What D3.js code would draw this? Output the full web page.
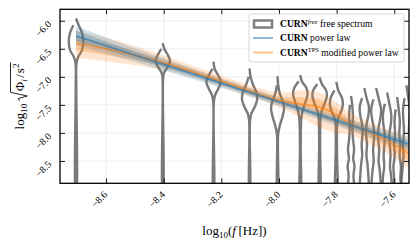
<!DOCTYPE html>
<html><head><meta charset="utf-8">
<script src="https://cdn.jsdelivr.net/npm/d3@7"></script>
<style>
body{margin:0;background:#fff}
svg{display:block}
text{font-family:"Liberation Serif","Times New Roman",serif;fill:#000}
</style>
</head><body>
<svg id="c" width="419" height="241"></svg>
<script>
// ---------- data ----------
// free-spectrum frequencies (log10 f)
const violinLogF = [-8.704, -8.403, -8.227, -8.102, -8.005, -7.926, -7.859, -7.801, -7.750, -7.704, -7.663, -7.625, -7.590, -7.558];
// violin profiles: [log10 rho, relative density]
const violinProfiles = [
  [[-5.96,0],[-6.08,0.35],[-6.22,0.8],[-6.38,0.95],[-6.52,0.8],[-6.64,0.3],[-6.76,0.06],[-7.2,0.04],[-9.2,0.03]],
  [[-6.40,0],[-6.50,0.2],[-6.62,0.7],[-6.72,0.95],[-6.82,0.65],[-6.92,0.18],[-7.02,0.04],[-9.2,0.03]],
  [[-6.73,0],[-6.86,0.15],[-6.98,0.65],[-7.08,0.95],[-7.19,0.7],[-7.32,0.22],[-7.44,0.04],[-9.2,0.03]],
  [[-6.85,0],[-7.00,0.12],[-7.14,0.45],[-7.28,0.9],[-7.40,1.0],[-7.53,0.7],[-7.66,0.22],[-7.80,0.05],[-9.2,0.03]],
  [[-6.99,0],[-7.15,0.08],[-7.30,0.3],[-7.44,0.7],[-7.57,0.85],[-7.71,0.65],[-7.87,0.3],[-8.02,0.08],[-8.2,0.04],[-9.2,0.03]],
  [[-6.97,0],[-7.08,0.2],[-7.20,0.8],[-7.31,0.95],[-7.44,0.7],[-7.58,0.35],[-7.72,0.15],[-7.9,0.08],[-8.3,0.05],[-9.2,0.04]],
  [[-7.01,0],[-7.13,0.3],[-7.24,0.85],[-7.35,0.95],[-7.48,0.65],[-7.62,0.25],[-7.75,0.12],[-8.2,0.06],[-9.2,0.05]],
  [[-7.09,0],[-7.24,0.25],[-7.38,0.75],[-7.50,0.85],[-7.61,0.65],[-7.74,0.22],[-7.85,0.1],[-8.3,0.08],[-9.2,0.08]],
  [[-7.34,0],[-7.5,0.15],[-7.7,0.25],[-7.9,0.18],[-8.1,0.25],[-8.3,0.4],[-8.45,0.28],[-8.6,0.45],[-8.75,0.32],[-9.2,0.4]],
  [[-7.20,0],[-7.38,0.3],[-7.53,0.6],[-7.67,0.55],[-7.85,0.3],[-8.0,0.22],[-8.2,0.35],[-8.4,0.28],[-8.6,0.45],[-9.2,0.4]],
  [[-7.20,0],[-7.40,0.35],[-7.58,0.65],[-7.74,0.55],[-7.9,0.32],[-8.1,0.28],[-8.3,0.4],[-8.5,0.32],[-8.7,0.5],[-9.2,0.45]],
  [[-7.28,0],[-7.48,0.3],[-7.68,0.55],[-7.84,0.5],[-8.0,0.32],[-8.2,0.35],[-8.4,0.45],[-8.6,0.38],[-8.8,0.55],[-9.2,0.5]],
  [[-7.36,0],[-7.58,0.2],[-7.80,0.35],[-8.0,0.28],[-8.2,0.4],[-8.4,0.32],[-8.6,0.5],[-8.8,0.42],[-9.2,0.5]],
  [[-7.15,0],[-7.38,0.25],[-7.60,0.45],[-7.80,0.38],[-8.0,0.32],[-8.2,0.45],[-8.4,0.38],[-8.6,0.5],[-9.2,0.5]]
];
// reconstruction grid (log10 f)
const bandLogF = [-8.704, -8.6, -8.4, -8.2, -8.0, -7.92, -7.86, -7.80, -7.76, -7.70, -7.62, -7.55];
// CURN power law
const plMedian = [-6.27, -6.444, -6.778, -7.112, -7.446, -7.579, -7.679, -7.780, -7.846, -7.947, -8.080, -8.197];
const plLo1 = [-6.36, -6.520, -6.832, -7.154, -7.483, -7.618, -7.721, -7.827, -7.895, -8.000, -8.138, -8.262];
const plHi1 = [-6.18, -6.368, -6.724, -7.070, -7.409, -7.540, -7.637, -7.733, -7.797, -7.894, -8.022, -8.132];
const plLo2 = [-6.44, -6.590, -6.886, -7.196, -7.520, -7.657, -7.763, -7.874, -7.944, -8.053, -8.196, -8.320];
const plHi2 = [-6.10, -6.298, -6.670, -7.028, -7.372, -7.501, -7.595, -7.686, -7.748, -7.841, -7.964, -8.074];
// CURN TPS modified power law
const tpsMedian = [-6.40, -6.50, -6.75, -7.08, -7.42, -7.49, -7.54, -7.68, -7.82, -7.96, -8.15, -8.37];
const tpsLo1 = [-6.535, -6.61, -6.815, -7.13, -7.48, -7.615, -7.72, -7.84, -7.92, -8.06, -8.26, -8.50];
const tpsHi1 = [-6.28, -6.40, -6.685, -7.03, -7.35, -7.365, -7.41, -7.57, -7.72, -7.87, -8.05, -8.22];
const tpsLo2 = [-6.67, -6.72, -6.88, -7.18, -7.54, -7.74, -7.90, -8.00, -8.02, -8.16, -8.37, -8.63];
const tpsHi2 = [-6.16, -6.30, -6.62, -6.98, -7.28, -7.24, -7.28, -7.46, -7.62, -7.78, -7.95, -8.07];
// ticks
const xTicks = [-8.6, -8.4, -8.2, -8.0, -7.8, -7.6];
const yTicks = [-6.0, -6.5, -7.0, -7.5, -8.0, -8.5];
const legendLabels = [
  {bold:"CURN", sup:"free", supItalic:true, rest:" free spectrum"},
  {bold:"CURN", sup:"", rest:" power law"},
  {bold:"CURN", sup:"TPS", supItalic:false, rest:" modified power law"}
];

// ---------- layout ----------
const L = 60, R = 409, T = 9.3, B = 183.3;
const svg = d3.select("#c");
const x = d3.scaleLinear().domain([-8.7596, -7.549]).range([L, R]);
const y = d3.scaleLinear().domain([-8.898, -5.796]).range([B, T]);
const w = d3.scaleLinear().domain([0, 1]).range([0, 7.6]);
const fmt = v => (v < 0 ? "\u2212" : "") + Math.abs(v).toFixed(1);

svg.append("defs").append("clipPath").attr("id","clip")
  .append("rect").attr("x",L).attr("y",T).attr("width",R-L).attr("height",B-T);

// grid
const grid = svg.append("g").attr("clip-path","url(#clip)");
grid.selectAll("line.gx").data(xTicks).join("line")
  .attr("x1",d=>x(d)).attr("x2",d=>x(d)).attr("y1",T).attr("y2",B)
  .attr("stroke","#ebebeb").attr("stroke-width",0.8);
grid.selectAll("line.gy").data(yTicks).join("line")
  .attr("y1",d=>y(d)).attr("y2",d=>y(d)).attr("x1",L).attr("x2",R)
  .attr("stroke","#ebebeb").attr("stroke-width",0.8);

const plot = svg.append("g").attr("clip-path","url(#clip)");

// violins
const vline = d3.line().curve(d3.curveCatmullRom.alpha(0.5)).x(d=>d[0]).y(d=>d[1]);
violinProfiles.forEach((prof, i) => {
  const cx = x(violinLogF[i]);
  const right = prof.map(p => [cx + w(p[1]), y(p[0])]);
  const left = prof.slice(1).reverse().map(p => [cx - w(p[1]), y(p[0])]);
  plot.append("path").attr("d", vline(right.concat(left)))
    .attr("fill","none").attr("stroke","#555").attr("stroke-opacity",0.78)
    .attr("stroke-width",2.4).attr("stroke-linejoin","round");
});

// bands
const idx = d3.range(bandLogF.length);
const area = (lo, hi) => d3.area().curve(d3.curveCatmullRom)
  .x(i => x(bandLogF[i])).y0(i => y(lo[i])).y1(i => y(hi[i]))(idx);
const line = (m) => d3.line().curve(d3.curveCatmullRom)
  .x(i => x(bandLogF[i])).y(i => y(m[i]))(idx);
const BLUE = "#1f77b4", ORANGE = "#ff7f0e";
plot.append("path").attr("d", area(tpsLo2, tpsHi2)).attr("fill", ORANGE).attr("fill-opacity", 0.2);
plot.append("path").attr("d", area(tpsLo1, tpsHi1)).attr("fill", ORANGE).attr("fill-opacity", 0.28);
plot.append("path").attr("d", area(plLo2, plHi2)).attr("fill", BLUE).attr("fill-opacity", 0.2);
plot.append("path").attr("d", area(plLo1, plHi1)).attr("fill", BLUE).attr("fill-opacity", 0.28);
plot.append("path").attr("d", line(tpsMedian)).attr("fill","none").attr("stroke", ORANGE).attr("stroke-opacity",0.65).attr("stroke-width",1.6);
plot.append("path").attr("d", line(plMedian)).attr("fill","none").attr("stroke", BLUE).attr("stroke-opacity",0.65).attr("stroke-width",1.6);

// axes (inward ticks)
const tick = 5;
const ax = svg.append("g").attr("transform",`translate(0,${B})`)
  .call(d3.axisBottom(x).tickValues(xTicks).tickSizeInner(-tick).tickSizeOuter(0).tickFormat(fmt));
ax.select(".domain").remove();
ax.selectAll("text").attr("x",0).attr("y",0).attr("dy",null)
  .attr("text-anchor","end").attr("font-size",10).attr("font-family","Liberation Serif, serif")
  .attr("transform","translate(1.5,12) rotate(-45)");
const axT = svg.append("g").attr("transform",`translate(0,${T})`)
  .call(d3.axisTop(x).tickValues(xTicks).tickSizeInner(-tick).tickSizeOuter(0).tickFormat(""));
axT.select(".domain").remove();
const ay = svg.append("g").attr("transform",`translate(${L},0)`)
  .call(d3.axisLeft(y).tickValues(yTicks).tickSizeInner(-tick).tickSizeOuter(0).tickFormat(fmt));
ay.select(".domain").remove();
ay.selectAll("text").attr("x",0).attr("y",0).attr("dy",null)
  .attr("text-anchor","end").attr("font-size",10).attr("font-family","Liberation Serif, serif")
  .attr("transform","translate(-8,3.5) rotate(-45)");
const ayR = svg.append("g").attr("transform",`translate(${R},0)`)
  .call(d3.axisRight(y).tickValues(yTicks).tickSizeInner(-tick).tickSizeOuter(0).tickFormat(""));
ayR.select(".domain").remove();
svg.selectAll(".tick line").attr("stroke","#000").attr("stroke-width",0.9);

// frame
svg.append("rect").attr("x",L).attr("y",T).attr("width",R-L).attr("height",B-T)
  .attr("fill","none").attr("stroke","#000").attr("stroke-width",1.3);

// x title
const xt = svg.append("text").attr("x",(L+R)/2).attr("y",235).attr("text-anchor","middle").attr("font-size",13);
xt.append("tspan").text("log");
xt.append("tspan").attr("font-size",9).attr("dy",3).text("10");
xt.append("tspan").attr("dy",-3).text("(");
xt.append("tspan").attr("font-style","italic").text("f");
xt.append("tspan").text("\u2009[Hz])");

// y title (rotated)
const yg = svg.append("g").attr("transform","translate(24,96) rotate(-90)");
let cur = 0;
function put(txt, size, dy, italic) {
  const t = yg.append("text").attr("x",cur).attr("y",dy).attr("font-size",size)
    .attr("font-style", italic ? "italic" : "normal").text(txt);
  cur += t.node().getComputedTextLength();
  return t;
}
put("log", 13, 0);
put("10", 9, 3);
cur += 3;
const radStart = cur;
cur += 9.5;
put("\u03A6", 13, 0);
put("i", 9, 3, true);
cur += 1.5;
put("/", 13, 0);
cur += 1;
put("s", 13, 0);
put("2", 9, -5.5);
const total = cur + 1;
yg.append("path")
  .attr("d", `M${radStart},-4.5 L${radStart+2.2},-5.8 L${radStart+4.8},3.2 L${radStart+8.5},-13.5 L${total},-13.5`)
  .attr("fill","none").attr("stroke","#000").attr("stroke-width",0.85);
yg.selectAll("*").attr("transform",`translate(${-total/2},0)`);

// legend
const lg = svg.append("g");
lg.append("rect").attr("x",249).attr("y",14).attr("width",155).attr("height",48).attr("rx",2)
  .attr("fill","#fff").attr("fill-opacity",0.8).attr("stroke","#cccccc").attr("stroke-width",0.8);
const rows = [24, 38, 52.5];
lg.append("rect").attr("x",254).attr("y",rows[0]-3.5).attr("width",18).attr("height",7)
  .attr("fill","#fff").attr("stroke","#555").attr("stroke-opacity",0.78).attr("stroke-width",2.4);
lg.append("line").attr("x1",253).attr("x2",273).attr("y1",rows[1]).attr("y2",rows[1])
  .attr("stroke",BLUE).attr("stroke-opacity",0.5).attr("stroke-width",2);
lg.append("line").attr("x1",253).attr("x2",273).attr("y1",rows[2]).attr("y2",rows[2])
  .attr("stroke",ORANGE).attr("stroke-opacity",0.5).attr("stroke-width",2);
legendLabels.forEach((d, i) => {
  const t = lg.append("text").attr("x",280).attr("y",rows[i]+3.3).attr("font-size",9.6);
  t.append("tspan").attr("font-weight","bold").text(d.bold);
  if (d.sup) {
    t.append("tspan").attr("font-size",6.5).attr("dy",-3.8).attr("font-style", d.supItalic?"italic":"normal").text(d.sup);
    t.append("tspan").attr("dy",3.8).text(d.rest);
  } else {
    t.append("tspan").text(d.rest);
  }
});
</script>
</body></html>
